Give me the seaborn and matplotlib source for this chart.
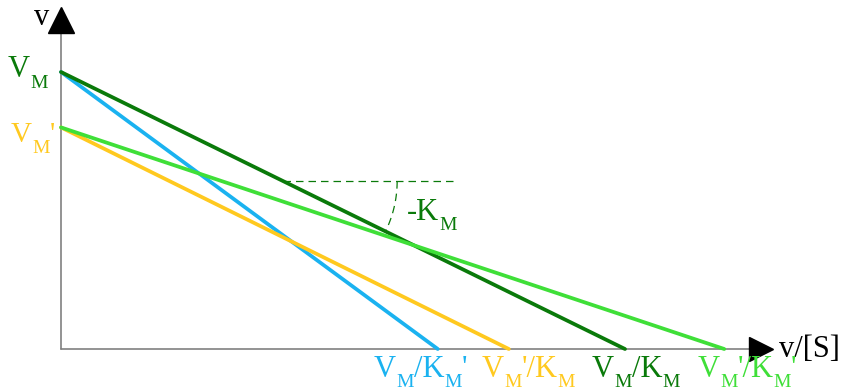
import numpy as np
import pandas as pd
import matplotlib
matplotlib.use('Agg')
import matplotlib.pyplot as plt
import seaborn as sns

# values (v on y, v/[S] on x)
lines = ['VM/KM', "VM/KM'", "VM'/KM", "VM'/KM'"]
v_start = [10.0, 10.0, 8.0, 8.0]       # V_M and V_M'
s_end = [10.0, 6.68, 7.94, 11.76]      # x intercepts
colors = ['#0a7a0a', '#1ab2f0', '#ffc91f', '#3fdf38']

# slope marker on the V_M/K_M line
slope_x0 = 3.94
slope_x1 = 7.0
arc_r = 2.02

df = pd.DataFrame({
    'line': np.repeat(lines, 2),
    's': np.ravel([[0, e] for e in s_end]),
    'v': np.ravel([[b, 0] for b in v_start]),
})

sns.set_style('white')
plt.rcParams['font.family'] = ['Liberation Serif', 'DejaVu Serif']

fig = plt.figure(figsize=(8.52, 3.9), dpi=100)
ax = fig.add_axes([0, 0, 1, 1])
ax.set_xlim(-1.082, 14.025)
ax.set_ylim(-1.48, 12.6)
ax.axis('off')

# axes with arrow heads
ax.plot([0, 0], [0, 11.6], color='#808080', lw=1.2)
ax.plot([0, 12.2], [0, 0], color='#808080', lw=1.2)
ax.plot([0], [11.88], marker='^', ms=19, color='black', clip_on=False)
ax.plot([12.42], [0], marker='>', ms=17, color='black', clip_on=False)

sns.lineplot(data=df, x='s', y='v', hue='line', palette=dict(zip(lines, colors)),
             hue_order=["VM/KM'", "VM'/KM", 'VM/KM', "VM'/KM'"],
             sort=False, legend=False, lw=2.7, ax=ax)

# slope triangle: horizontal dashes + arc down to the line
dg = colors[0]
y0 = v_start[0] * (1 - slope_x0 / s_end[0])
ax.plot([slope_x0, slope_x1], [y0, y0], color=dg, lw=0.9, ls=(0, (6, 4)))
c = ax.transData.transform((slope_x0, y0))
p_end = ax.transData.transform((s_end[0], 0))
ang = np.arctan2(p_end[1] - c[1], p_end[0] - c[0])
r_px = ax.transData.transform((slope_x0 + arc_r, 0))[0] - c[0]
t = np.linspace(0, ang, 40)
arc = ax.transData.inverted().transform(np.column_stack([c[0] + r_px * np.cos(t), c[1] + r_px * np.sin(t)]))
ax.plot(arc[:, 0], arc[:, 1], color=dg, lw=0.9, ls=(0, (6, 4)))

# labels drawn piece by piece so the subscripts can be small and low
W, H = 852, 390
renderer = fig.canvas.get_renderer()
def label(px, py, parts, color, size=22, sub_size=14, drop=11):
    x = px
    for s, sub in parts:
        y = py + (drop if sub else 0)
        txt = fig.text(x / W, 1 - y / H, s, color=color, fontsize=sub_size if sub else size,
                       ha='left', va='baseline')
        x += txt.get_window_extent(renderer).width

label(34, 25, [('v', 0)], 'black')
label(8, 77, [('V', 0), ('M', 1)], dg)
label(11, 142, [('V', 0), ('M', 1), ("'", 0)], colors[2], size=21)
label(407, 220, [('-K', 0), ('M', 1)], dg, drop=10)
label(779, 357, [('v/[S]', 0)], 'black')
label(374, 377, [('V', 0), ('M', 1), ('/K', 0), ('M', 1), ("'", 0)], colors[1], drop=10)
label(482, 377, [('V', 0), ('M', 1), ("'/K", 0), ('M', 1)], colors[2], drop=10)
label(592, 377, [('V', 0), ('M', 1), ('/K', 0), ('M', 1)], dg, drop=10)
label(698, 377, [('V', 0), ('M', 1), ("'/K", 0), ('M', 1), ("'", 0)], colors[3], drop=10)

fig.savefig('out.png', dpi=100)
